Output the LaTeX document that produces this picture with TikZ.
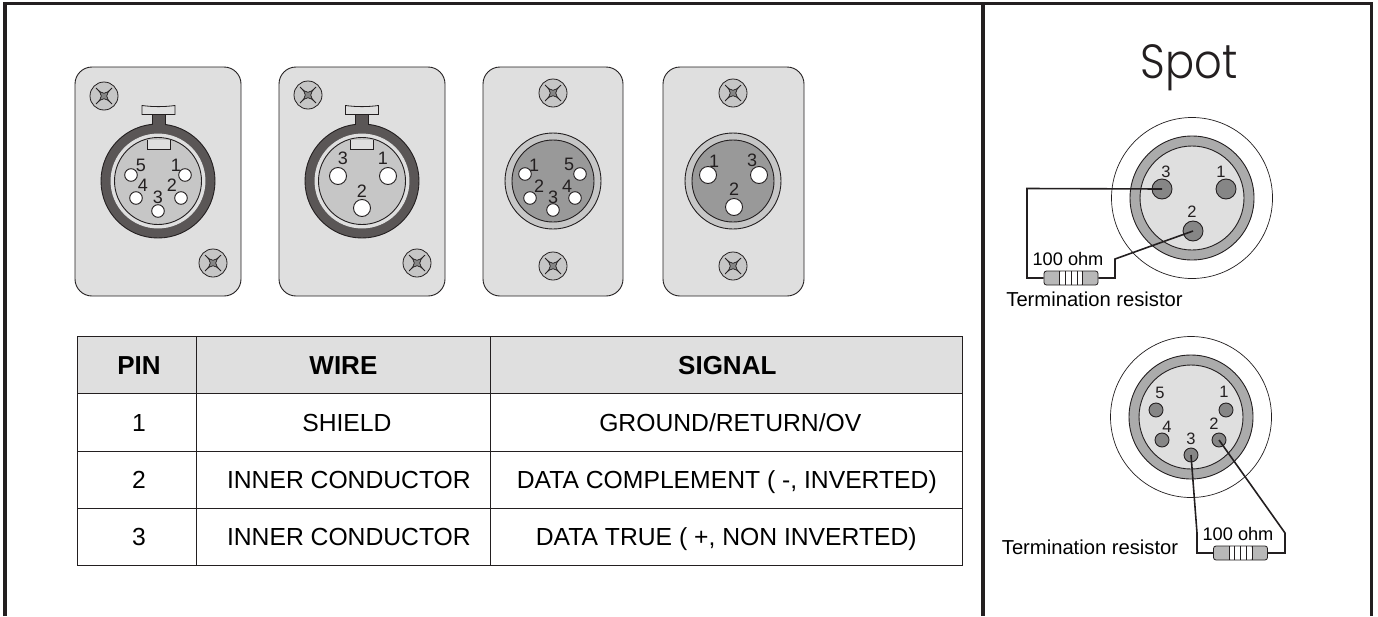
\documentclass[tikz,border=0pt]{standalone}
\usepackage{fontspec}
\setmainfont{Liberation Sans}
\newfontfamily\spotfont[FakeStretch=0.9]{Poppins Light}
\definecolor{plategray}{HTML}{DFDFDF}
\definecolor{ringdark}{HTML}{5A5656}
\definecolor{innerlight}{HTML}{C6C6C6}
\definecolor{innerdark}{HTML}{999999}
\definecolor{ringmid}{HTML}{ABABAB}
\definecolor{pingray}{HTML}{868686}
\definecolor{linedark}{HTML}{231F20}

\begin{document}
\begin{tikzpicture}[x=1pt,y=-1pt]
\tikzset{plate/.style = {draw=linedark,fill=plategray,line width=0.9pt,rounded corners=17pt}}
\tikzset{round/.style = {shape=circle,draw=linedark,inner sep=0pt,line width=0.9pt}}
\tikzset{femring/.style = {round,fill=ringdark,minimum size=114pt}}
\tikzset{femgap/.style = {round,draw=plategray,fill=plategray,minimum size=94pt}}
\tikzset{feminner/.style = {round,fill=innerlight,minimum size=87pt}}
\tikzset{malering/.style = {round,fill=innerlight,minimum size=96pt}}
\tikzset{maleinner/.style = {round,fill=innerdark,minimum size=82pt}}
\tikzset{pinsmall/.style = {round,fill=white,minimum size=12.6pt}}
\tikzset{pinbig/.style = {round,fill=white,minimum size=17pt}}
\tikzset{num/.style = {inner sep=0pt,text=linedark,font=\fontsize{18}{20}\selectfont}}
\tikzset{cablenum/.style = {num,font=\fontsize{16.5}{18}\selectfont}}
\tikzset{spotring/.style = {round,fill=ringmid,minimum size=124pt}}
\tikzset{spotinner/.style = {round,fill=plategray,minimum size=104pt}}
\tikzset{spotouter/.style = {round,fill=white,line width=0.7pt,minimum size=161pt}}
\tikzset{spotpin/.style = {round,fill=pingray,minimum size=20pt}}
\tikzset{spotsmall/.style = {round,fill=pingray,minimum size=14pt}}
\tikzset{wire/.style = {draw=linedark,line width=1.6pt}}
\tikzset{ohm/.style = {inner sep=0pt,text=black,font=\fontsize{18.2}{22}\selectfont}}
\tikzset{term/.style = {inner sep=0pt,text=black,font=\fontsize{20.2}{24}\selectfont}}
\tikzset{cell/.style = {shape=rectangle,draw=linedark,line width=0.9pt,inner sep=0pt,text height=17.7pt,text depth=0pt,font=\fontsize{24.7}{30}\selectfont}}
\tikzset{headcell/.style = {cell,fill=plategray,text height=18.6pt,font=\fontsize{26}{30}\selectfont\bfseries}}
\tikzset{resistor/.style = {shape=rectangle,draw=linedark,fill=innerdark!70,line width=0.8pt,rounded corners=2.5pt,
  minimum width=54pt,minimum height=14pt,inner sep=0pt,
  path picture={
    \fill[white] (path picture bounding box.center) ++(-11.5,-7) rectangle ++(23,14);
    \foreach \dx in {-11.5,-6,0,6,11.5}
      \draw[linedark,line width=1pt] (path picture bounding box.center) ++(\dx,-7) -- ++(0,14);
  }}}
\tikzset{screw/.pic = {
  \draw[draw=linedark,fill=innerlight,line width=0.8pt] (0,0) circle (14);
  \draw[draw=linedark,fill=pingray,line width=0.7pt] (-8,-8) .. controls (-1,-1) and (1,-1) .. (8,-8)
    .. controls (1,-1) and (1,1) .. (8,8) .. controls (1,1) and (-1,1) .. (-8,8)
    .. controls (-1,1) and (-1,-1) .. (-8,-8) -- cycle;
}}
\tikzset{latch/.pic = {
  \draw[draw=linedark,fill=ringdark,line width=0.8pt] (-6.5,9) rectangle (6.5,26);
  \draw[draw=linedark,fill=plategray,line width=0.8pt] (-16.5,0) .. controls (-5,1.5) and (5,1.5) .. (16.5,0)
    -- (16.5,9) -- (-16.5,9) -- cycle;
}}
\tikzset{notch/.pic = {
  \fill[plategray] (-11.5,0) rectangle (11.5,9);
  \draw[draw=linedark,line width=0.8pt] (-11.5,0) -- (-11.5,9) -- (11.5,9) -- (11.5,0);
}}
\useasboundingbox (0,0) rectangle (1378,616);
% frame
\draw[draw=linedark,line width=3.4pt] (5,616) -- (5,3.5) -- (1371.5,3.5) -- (1371.5,616);
\draw[draw=linedark,line width=4pt] (983,3.5) -- (983,616);
% plates
\draw[plate] (75,67) rectangle (241,296);
\draw[plate] (279,67) rectangle (445,296);
\draw[plate] (483,67) rectangle (623,296);
\draw[plate] (663,67) rectangle (804,296);
\pic at (104,96) {screw};
\pic at (213,263) {screw};
\pic at (308,95) {screw};
\pic at (417,263) {screw};
\pic at (553,93) {screw};
\pic at (553,266) {screw};
\pic at (733,93) {screw};
\pic at (733,266) {screw};
% female 5 pin
\pic at (158.5,105.5) {latch};
\node[femring] (fa) at (158,181) {};
\node[femgap] (fb) at (158,181) {};
\node[feminner] (fc) at (158,181) {};
\fill[ringdark] (152.5,115) rectangle (164.5,127);
\pic at (158.5,140) {notch};
\node[pinsmall] (a5) at (131,175) {};
\node[pinsmall] (a1) at (185,175) {};
\node[pinsmall] (a4) at (136,198) {};
\node[pinsmall] (a2) at (181,198) {};
\node[pinsmall] (a3) at (158,211) {};
\node[num] (a5n) at (141,165) {5};
\node[num] (a1n) at (176,165) {1};
\node[num] (a4n) at (143,185) {4};
\node[num] (a2n) at (172,185) {2};
\node[num] (a3n) at (158,197) {3};
% female 3 pin
\pic at (362,105.5) {latch};
\node[femring] (ga) at (362,181) {};
\node[femgap] (gb) at (362,181) {};
\node[feminner] (gc) at (362,181) {};
\fill[ringdark] (356,115) rectangle (368,127);
\pic at (362,140) {notch};
\node[pinbig] (b3) at (338,176) {};
\node[pinbig] (b1) at (388,176) {};
\node[pinbig] (b2) at (362,208) {};
\node[num] (b3n) at (343,158) {3};
\node[num] (b1n) at (383,158) {1};
\node[num] (b2n) at (362,191) {2};
% male 5 pin
\node[malering] (ha) at (553,181) {};
\node[maleinner] (hb) at (553,181) {};
\node[pinsmall] (c1) at (525,174) {};
\node[pinsmall] (c5) at (580,174) {};
\node[pinsmall] (c2) at (530,198) {};
\node[pinsmall] (c4) at (575,198) {};
\node[pinsmall] (c3) at (553,210) {};
\node[num] (c1n) at (534,165) {1};
\node[num] (c5n) at (569,164) {5};
\node[num] (c2n) at (539,186) {2};
\node[num] (c4n) at (567,186) {4};
\node[num] (c3n) at (553,197) {3};
% male 3 pin
\node[malering] (ja) at (733,181) {};
\node[maleinner] (jb) at (733,181) {};
\node[pinbig] (d1) at (708,175) {};
\node[pinbig] (d3) at (759,175) {};
\node[pinbig] (d2) at (734,207) {};
\node[num] (d1n) at (714,161) {1};
\node[num] (d3n) at (752,160) {3};
\node[num] (d2n) at (734,189) {2};
% table
\node[headcell,minimum width=119.5pt,minimum height=57pt] (hpin) at (137,365.2) {\hspace*{4pt}PIN};
\node[headcell,minimum width=293.5pt,minimum height=57pt] (hwire) at (343.4,365.2) {WIRE};
\node[headcell,minimum width=472.5pt,minimum height=57pt] (hsig) at (726.3,365.2) {\hspace*{2pt}SIGNAL};
\node[cell,minimum width=119.5pt,minimum height=57.3pt] (p1) at (137,422.4) {\hspace*{4pt}1};
\node[cell,minimum width=293.5pt,minimum height=57.3pt] (w1) at (343.4,422.4) {\hspace*{7pt}SHIELD};
\node[cell,minimum width=472.5pt,minimum height=57.3pt] (s1) at (726.3,422.4) {\hspace*{8pt}GROUND/RETURN/OV};
\node[cell,minimum width=119.5pt,minimum height=57.3pt] (p2) at (137,479.6) {\hspace*{4pt}2};
\node[cell,minimum width=293.5pt,minimum height=57.3pt] (w2) at (343.4,479.6) {\hspace*{11pt}INNER CONDUCTOR};
\node[cell,minimum width=472.5pt,minimum height=57.3pt] (s2) at (726.3,479.6) {\hspace*{1pt}DATA COMPLEMENT ( -, INVERTED)};
\node[cell,minimum width=119.5pt,minimum height=57.3pt] (p3) at (137,536.9) {\hspace*{4pt}3};
\node[cell,minimum width=293.5pt,minimum height=57.3pt] (w3) at (343.4,536.9) {\hspace*{11pt}INNER CONDUCTOR};
\node[cell,minimum width=472.5pt,minimum height=57.3pt] (s3) at (726.3,536.9) {DATA TRUE ( +, NON INVERTED)};
% spot
\node[inner sep=0pt,text=linedark,font=\spotfont\fontsize{48}{50}\selectfont] (spot) at (1189,68) {Spot};
\node[spotouter] (ta) at (1192,198) {};
\node[spotring] (tb) at (1192,198) {};
\node[spotinner] (tc) at (1192,198) {};
\node[spotpin] (t3) at (1162,189) {};
\node[spotpin] (t1) at (1226,189) {};
\node[spotpin] (t2) at (1193,231) {};
\node[cablenum] (t3n) at (1166,172) {3};
\node[cablenum] (t1n) at (1221,172) {1};
\node[cablenum] (t2n) at (1192,212) {2};
\node[resistor] (ra) at (1071,278) {};
\coordinate (ra1) at (1027,188.5);
\coordinate (ra2) at (1027,278);
\coordinate (ra3) at (1115,278);
\coordinate (ra4) at (1115,259);
\draw[wire] (t3.center) -- (ra1) -- (ra2) -- (ra.west);
\draw[wire] (ra.east) -- (ra3) -- (ra4) -- (t2.center);
\node[ohm] (ra5) at (1068,259) {100 ohm};
\node[term] (ra6) at (1094.5,299) {Termination resistor};
% spot lower
\node[spotouter] (ua) at (1191,417) {};
\node[spotring] (ub) at (1191,417) {};
\node[spotinner] (uc) at (1191,417) {};
\node[spotsmall] (u5) at (1156,410) {};
\node[spotsmall] (u1) at (1226,410) {};
\node[spotsmall] (u4) at (1162,440) {};
\node[spotsmall] (u2) at (1219,440) {};
\node[spotsmall] (u3) at (1191,455) {};
\node[cablenum] (u5n) at (1160,393) {5};
\node[cablenum] (u1n) at (1224,392) {1};
\node[cablenum] (u4n) at (1167,427) {4};
\node[cablenum] (u2n) at (1214,424) {2};
\node[cablenum] (u3n) at (1191,439) {3};
\node[resistor] (rb) at (1240.5,553) {};
\coordinate (rb1) at (1197,533);
\coordinate (rb2) at (1197,553);
\coordinate (rb3) at (1285,553);
\coordinate (rb4) at (1285,533);
\draw[wire] (u3.center) -- (rb1) -- (rb2) -- (rb.west);
\draw[wire] (rb.east) -- (rb3) -- (rb4) -- (u2.center);
\node[ohm] (rb5) at (1238,534) {100 ohm};
\node[term] (rb6) at (1090,547) {Termination resistor};
\end{tikzpicture}
\end{document}
